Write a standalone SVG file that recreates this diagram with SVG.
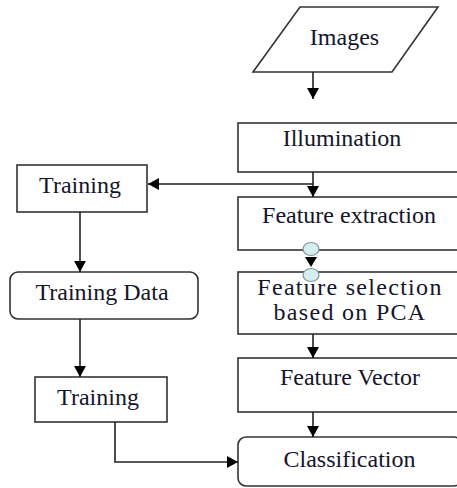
<svg xmlns="http://www.w3.org/2000/svg" width="457" height="488" viewBox="0 0 457 488">
<defs>
<marker id="ah" markerUnits="userSpaceOnUse" markerWidth="12" markerHeight="12" refX="11" refY="6" orient="auto">
<path d="M0,0 L11,6 L0,12 z" fill="#000"/>
</marker>
<style>
.box{fill:#fff;stroke:#333;stroke-width:1.6}
text{font-family:'Liberation Serif','DejaVu Serif','Times New Roman',serif;font-size:24px;fill:#15152a;text-anchor:middle}
.c{fill:none;stroke:#222;stroke-width:1.6}
.dot{fill:#d4eef2;stroke:#7a9499;stroke-width:1.2}
</style>
</defs>
<rect width="457" height="488" fill="#fff"/>
<g id="images">
<polygon class="box" points="300,7 438,7 392,72 253,72"/>
<text x="344.5" y="45" font-family="Liberation Serif, serif">Images</text>
</g>
<g id="illumination">
<rect class="box" x="238" y="123" width="224" height="49"/>
<text x="342" y="146" font-family="Liberation Serif, serif">Illumination</text>
</g>
<g id="feature-extraction">
<rect class="box" x="238" y="197" width="224" height="53"/>
<text x="349" y="223" font-family="Liberation Serif, serif">Feature extraction</text>
</g>
<g id="feature-selection">
<rect class="box" x="238" y="272" width="224" height="62"/>
<text x="350" y="295" font-family="Liberation Serif, serif" font-size="21" letter-spacing="1.3">Feature selection</text>
<text x="350" y="320" font-family="Liberation Serif, serif" font-size="21" letter-spacing="1.3">based on PCA</text>
</g>
<g id="feature-vector">
<rect class="box" x="238" y="358" width="224" height="54"/>
<text x="350" y="385" font-family="Liberation Serif, serif">Feature Vector</text>
</g>
<g id="classification">
<rect class="box" x="238" y="437" width="224" height="49" rx="8"/>
<text x="349.5" y="467" font-family="Liberation Serif, serif">Classification</text>
</g>
<g id="training-top">
<rect class="box" x="17" y="165" width="130" height="47"/>
<text x="80" y="193" font-family="Liberation Serif, serif">Training</text>
</g>
<g id="training-data">
<rect class="box" x="10" y="272" width="188" height="47" rx="8"/>
<text x="102" y="300" font-family="Liberation Serif, serif">Training Data</text>
</g>
<g id="training-bottom">
<rect class="box" x="35" y="377" width="132" height="45"/>
<text x="98" y="405" font-family="Liberation Serif, serif">Training</text>
</g>
<g id="connectors">
<line class="c" x1="313" y1="72" x2="313" y2="99" marker-end="url(#ah)"/>
<line class="c" x1="313" y1="172" x2="313" y2="197" marker-end="url(#ah)"/>
<line class="c" x1="313" y1="184" x2="148" y2="184" marker-end="url(#ah)"/>
<line class="c" x1="80" y1="212" x2="80" y2="272" marker-end="url(#ah)"/>
<line class="c" x1="80" y1="319" x2="80" y2="377" marker-end="url(#ah)"/>
<polyline class="c" points="115,422 115,462 238,462" marker-end="url(#ah)"/>
<line class="c" x1="313" y1="334" x2="313" y2="358" marker-end="url(#ah)"/>
<line class="c" x1="313" y1="412" x2="313" y2="437" marker-end="url(#ah)"/>
<path d="M305,257 L317,257 L311,267 z" fill="#000"/>
<ellipse class="dot" cx="311" cy="249" rx="8" ry="6.5"/>
<ellipse class="dot" cx="311" cy="275" rx="8" ry="6.5"/>
</g>
</svg>
